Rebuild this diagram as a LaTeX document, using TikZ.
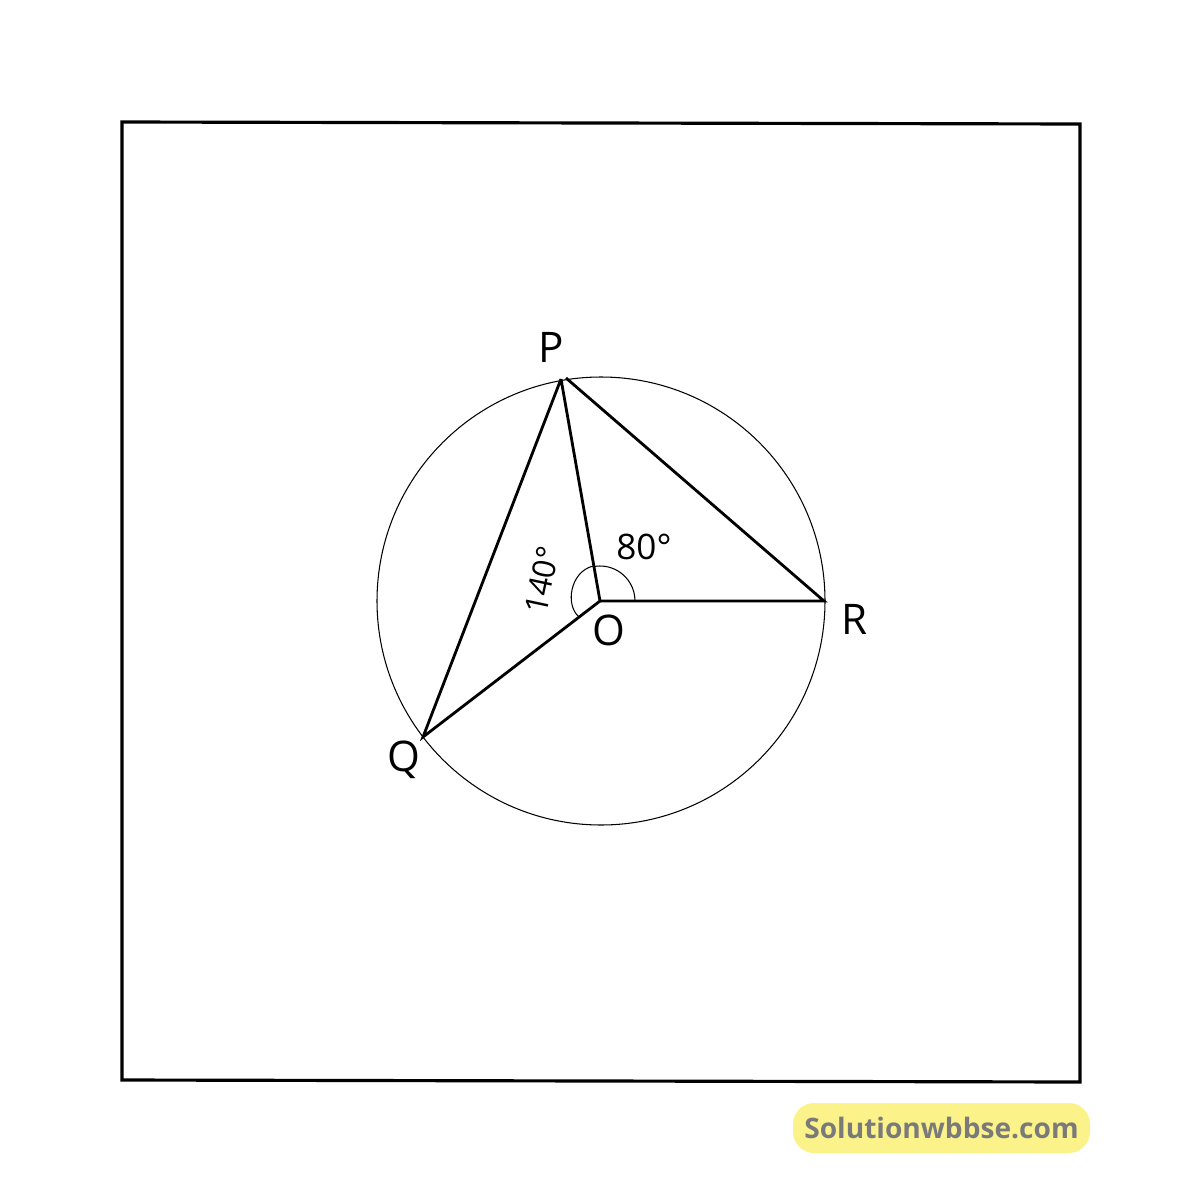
\documentclass[tikz,border=0pt]{standalone}
\usepackage{fontspec}
\setmainfont{Open Sans}
\begin{document}
\begin{tikzpicture}[x=0.02cm,y=-0.02cm,
  seg/.style={line width=1.6pt},
  thin/.style={line width=0.6pt},
  lbl/.style={font=\fontsize{24}{28}\selectfont, inner sep=0pt},
  albl/.style={font=\fontsize{20}{24}\selectfont, inner sep=0pt}]
\useasboundingbox (0,0) rectangle (1200,1200);
\draw[line width=1.8pt] (122,122) -- (1080,124) -- (1080,1082) -- (122,1080) -- cycle;
\coordinate (O) at (600,601);
\coordinate (P) at (561,379);
\coordinate (P2) at (566,378);
\coordinate (R) at (824,601);
\coordinate (Q) at (423,737);
\draw[thin] (601,601) circle[radius=224];
\draw[seg] (P) -- (Q) -- (O) -- (P);
\draw[seg] (O) -- (R) -- (P2);
\draw[thin] (635,601) arc[start angle=0, end angle=-101, radius=35];
\draw[thin] (593,566) .. controls (570,572) and (565,605) .. (579,617);
\node[lbl] (lP) at (551,347) {P};
\node[lbl] (lO) at (609,630) {O};
\node[lbl] (lR) at (855,619) {R};
\node[lbl] (lQ) at (404,760) {Q};
\node[albl] (a80) at (644,547) {80°};
\node[font=\fontsize{18}{22}\selectfont, inner sep=0pt, rotate=78] (a140) at (542,580) {140°};
\node[fill={rgb,255:red,251;green,243;blue,138}, rounded corners=12pt, minimum width=297*0.02cm, minimum height=50*0.02cm, inner sep=0pt, text={rgb,255:red,122;green,122;blue,122}, font=\fontsize{16}{20}\selectfont\bfseries] (wm) at (941.5,1128) {Solutionwbbse.com};
\end{tikzpicture}
\end{document}
